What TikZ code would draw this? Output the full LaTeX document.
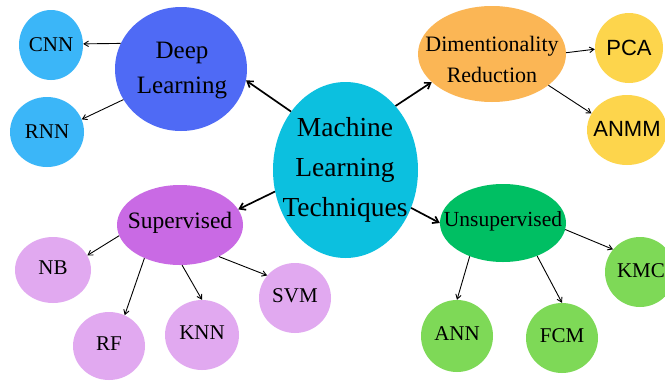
\documentclass[tikz,border=0pt]{standalone}
\usepackage{fontspec}
\setmainfont{Liberation Serif}
\newfontfamily\sansf{Liberation Sans}
\usetikzlibrary{shapes.geometric,arrows.meta}
\definecolor{cLBlue}{HTML}{3BB6F8}
\definecolor{cBlue}{HTML}{4F6AF5}
\definecolor{cCyan}{HTML}{0CC0DF}
\definecolor{cOrange}{HTML}{FBB655}
\definecolor{cYellow}{HTML}{FDD54C}
\definecolor{cPurple}{HTML}{C96AE4}
\definecolor{cLPurple}{HTML}{E1A9F0}
\definecolor{cGreen}{HTML}{00BF63}
\definecolor{cLGreen}{HTML}{7ED957}
\tikzset{
  blob/.style={ellipse, draw=none, inner sep=0pt},
  txt/.style={align=center, inner sep=0pt, text=black},
  thin arrow/.style={-{Straight Barb[length=4.5pt,width=5.5pt]}, line width=0.9pt, black},
  thick arrow/.style={-{Straight Barb[length=5.5pt,width=7.5pt]}, line width=1.7pt, black},
}
\begin{document}
\begin{tikzpicture}[x=1pt,y=-1pt]
\useasboundingbox (0,0) rectangle (665,381);
\fill[white] (0,0) rectangle (665,381);
% shapes
\node[blob, fill=cLBlue, minimum width=64, minimum height=70] (cnn) at (51,45) {};
\node[blob, fill=cLBlue, minimum width=74, minimum height=70] (rnn) at (47,132) {};
\node[blob, fill=cBlue, minimum width=132, minimum height=124] (dl) at (181,69) {};
\node[blob, fill=cCyan, minimum width=145, minimum height=176] (ml) at (345.5,170) {};
\node[blob, fill=cOrange, minimum width=148, minimum height=96] (dr) at (492,54) {};
\node[blob, fill=cYellow, minimum width=68, minimum height=70] (pca) at (629,48) {};
\node[blob, fill=cYellow, minimum width=80, minimum height=70] (anmm) at (627,130) {};
\node[blob, fill=cPurple, minimum width=126, minimum height=80] (sup) at (180,225) {};
\node[blob, fill=cLPurple, minimum width=76, minimum height=66] (nb) at (53,270) {};
\node[blob, fill=cLPurple, minimum width=72, minimum height=68] (rf) at (109,346) {};
\node[blob, fill=cLPurple, minimum width=74, minimum height=70] (knn) at (202,335) {};
\node[blob, fill=cLPurple, minimum width=72, minimum height=70] (svm) at (295,298) {};
\node[blob, fill=cGreen, minimum width=126, minimum height=78] (uns) at (503,223) {};
\node[blob, fill=cLGreen, minimum width=72, minimum height=72] (ann) at (457,336) {};
\node[blob, fill=cLGreen, minimum width=72, minimum height=70] (fcm) at (562,338) {};
\node[blob, fill=cLGreen, minimum width=70, minimum height=70] (kmc) at (640,272) {};
% texts
\node[txt, font=\fontsize{21}{25}\selectfont] (cnnt) at (cnn) {CNN};
\node[txt, font=\fontsize{21}{25}\selectfont] (rnnt) at (rnn) {RNN};
\node[txt, font=\fontsize{25}{35}\selectfont] (dlt) at (182,71) {Deep\\Learning};
\node[txt, font=\fontsize{27.5}{40}\selectfont] (mlt) at (345,170) {Machine\\Learning\\Techniques};
\node[txt, font=\fontsize{22}{31}\selectfont] (drt) at (492,59) {Dimentionality\\Reduction};
\node[txt, font=\sansf\fontsize{22}{26}\selectfont] (pcat) at (pca) {PCA};
\node[txt, font=\sansf\fontsize{22}{26}\selectfont] (anmmt) at (627,129) {ANMM};
\node[txt, font=\fontsize{23.5}{28}\selectfont] (supt) at (180,223) {Supervised};
\node[txt, font=\fontsize{21}{25}\selectfont] (nbt) at (53,268) {NB};
\node[txt, font=\fontsize{21}{25}\selectfont] (rft) at (109,344) {RF};
\node[txt, font=\fontsize{21}{25}\selectfont] (knnt) at (202,333) {KNN};
\node[txt, font=\fontsize{21}{25}\selectfont] (svmt) at (295,296) {SVM};
\node[txt, font=\fontsize{21.5}{26}\selectfont] (unst) at (503,221) {Unsupervised};
\node[txt, font=\fontsize{21}{25}\selectfont] (annt) at (457,334) {ANN};
\node[txt, font=\fontsize{21}{25}\selectfont] (fcmt) at (562,336) {FCM};
\node[txt, font=\fontsize{21}{25}\selectfont] (kmct) at (641,271) {KMC};
% arrows
\draw[thick arrow] (ml.133) -- (dl.-10);
\draw[thick arrow] (ml.52) -- (dr.205);
\draw[thick arrow] (ml.197) -- (sup.15);
\draw[thick arrow] (ml.-30) -- (uns.180);
\draw[thin arrow] (dl.157) -- (cnn.2);
\draw[thin arrow] (dl.208) -- (rnn.20);
\draw[thin arrow] (dr.1) -- (pca.182);
\draw[thin arrow] (dr.-29) -- (anmm.155);
\draw[thin arrow] (sup.190) -- (nb.23);
\draw[thin arrow] (sup.223) -- (rf.63);
\draw[thin arrow] (sup.273) -- (knn.90);
\draw[thin arrow] (sup.-39) -- (svm.141);
\draw[thin arrow] (uns.225) -- (ann.90);
\draw[thin arrow] (uns.-44) -- (fcm.90);
\draw[thin arrow] (uns.-6) -- (kmc.140);
\end{tikzpicture}
\end{document}
